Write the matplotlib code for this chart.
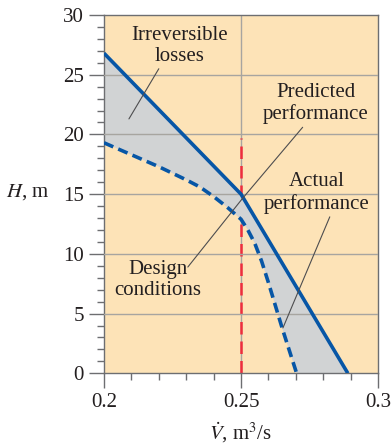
import matplotlib
matplotlib.use("Agg")
import matplotlib.pyplot as plt
from matplotlib.ticker import MultipleLocator

# Data
pred_q = [0.200, 0.250, 0.289]
pred_h = [26.8, 15.0, 0.0]
act_q = [0.200, 0.210, 0.220, 0.230, 0.235, 0.240, 0.245, 0.250, 0.2525, 0.255, 0.2575, 0.260, 0.265, 0.2703]
act_h = [19.3, 18.3, 17.3, 16.2, 15.6, 14.8, 13.9, 12.9, 12.0, 10.9, 9.4, 7.6, 3.8, 0.0]
design_q = 0.25
design_h_top = 19.7

x_ticks = [0.2, 0.25, 0.3]
x_ticklabels = ["0.2", "0.25", "0.3"]
y_ticks = [0, 5, 10, 15, 20, 25, 30]

plt.rcParams['font.family'] = ['Liberation Serif', 'DejaVu Serif']
plt.rcParams['mathtext.fontset'] = 'stix'

BG = '#FDE3B7'
FILL = '#D1D3D4'
BLUE = '#0756A6'
RED = '#EE2D3D'
TXT = '#231F20'
GRID = '#A7A5A0'
SPINE = '#6D6E71'

fig = plt.figure(figsize=(3.92, 4.44), dpi=100)
ax = fig.add_axes([0.2653, 0.1592, 0.6990, 0.8070])
ax.set_facecolor(BG)
ax.set_xlim(0.2, 0.3)
ax.set_ylim(0, 30)

# red design line
ax.plot([design_q, design_q], [0, design_h_top], color=RED, lw=1.8,
        dashes=(5, 2.8), zorder=1)

# gray region between curves
poly_x = list(pred_q) + list(reversed(act_q))
poly_y = list(pred_h) + list(reversed(act_h))
ax.fill(poly_x, poly_y, color=FILL, lw=0, zorder=2)

# grid
for yv in [5, 10, 15, 20, 25]:
    ax.axhline(yv, color=GRID, lw=1.0, zorder=3)
ax.axvline(0.25, color=GRID, lw=1.0, zorder=0.5)

ax.plot(pred_q, pred_h, color=BLUE, lw=2.6, zorder=4, solid_capstyle='butt')
ax.plot(act_q, act_h, color=BLUE, lw=2.6, dashes=(2.8, 1.5), zorder=4)

for s in ax.spines.values():
    s.set_color(SPINE)
    s.set_linewidth(1.0)

ax.set_xticks(x_ticks)
ax.set_xticklabels(x_ticklabels)
ax.set_yticks(y_ticks)
ax.xaxis.set_minor_locator(MultipleLocator(0.01))
ax.yaxis.set_minor_locator(MultipleLocator(1))
ax.tick_params(which='major', direction='out', length=10.5, width=1.0,
               color=SPINE, labelsize=15, labelcolor=TXT, pad=4)
ax.tick_params(which='minor', direction='out', length=5, width=1.0, color=SPINE)

fig.text(0.016, 1 - 192/444, r'$H$, m', fontsize=15, color=TXT, ha='left', va='center')
fig.text(241/392, 1 - 433/444, r'$\dot{V}$, m$^3$/s', fontsize=15, color=TXT,
         ha='center', va='center')

tkw = dict(fontsize=15, color=TXT, ha='center', va='center', linespacing=1.15, zorder=6)
ax.text(0.2277, 27.4, 'Irreversible\nlosses', **tkw)
ax.text(0.2773, 22.6, 'Predicted\nperformance', **tkw)
ax.text(0.2777, 15.1, 'Actual\nperformance', **tkw)
ax.text(0.2197, 7.8, 'Design\nconditions', **tkw)

lkw = dict(arrowprops=dict(arrowstyle='-', lw=0.8, color='#4D4D4F', shrinkA=0, shrinkB=0))
ax.annotate('', xy=(0.2091, 21.3), xytext=(0.2200, 25.5), zorder=6, **lkw)
ax.annotate('', xy=(0.2504, 14.6), xytext=(0.2725, 20.6), zorder=6, **lkw)
ax.annotate('', xy=(0.2504, 14.6), xytext=(0.2306, 8.9), zorder=6, **lkw)
ax.annotate('', xy=(0.2653, 3.8), xytext=(0.2824, 13.1), zorder=6, **lkw)

fig.savefig('out.png', dpi=100)
